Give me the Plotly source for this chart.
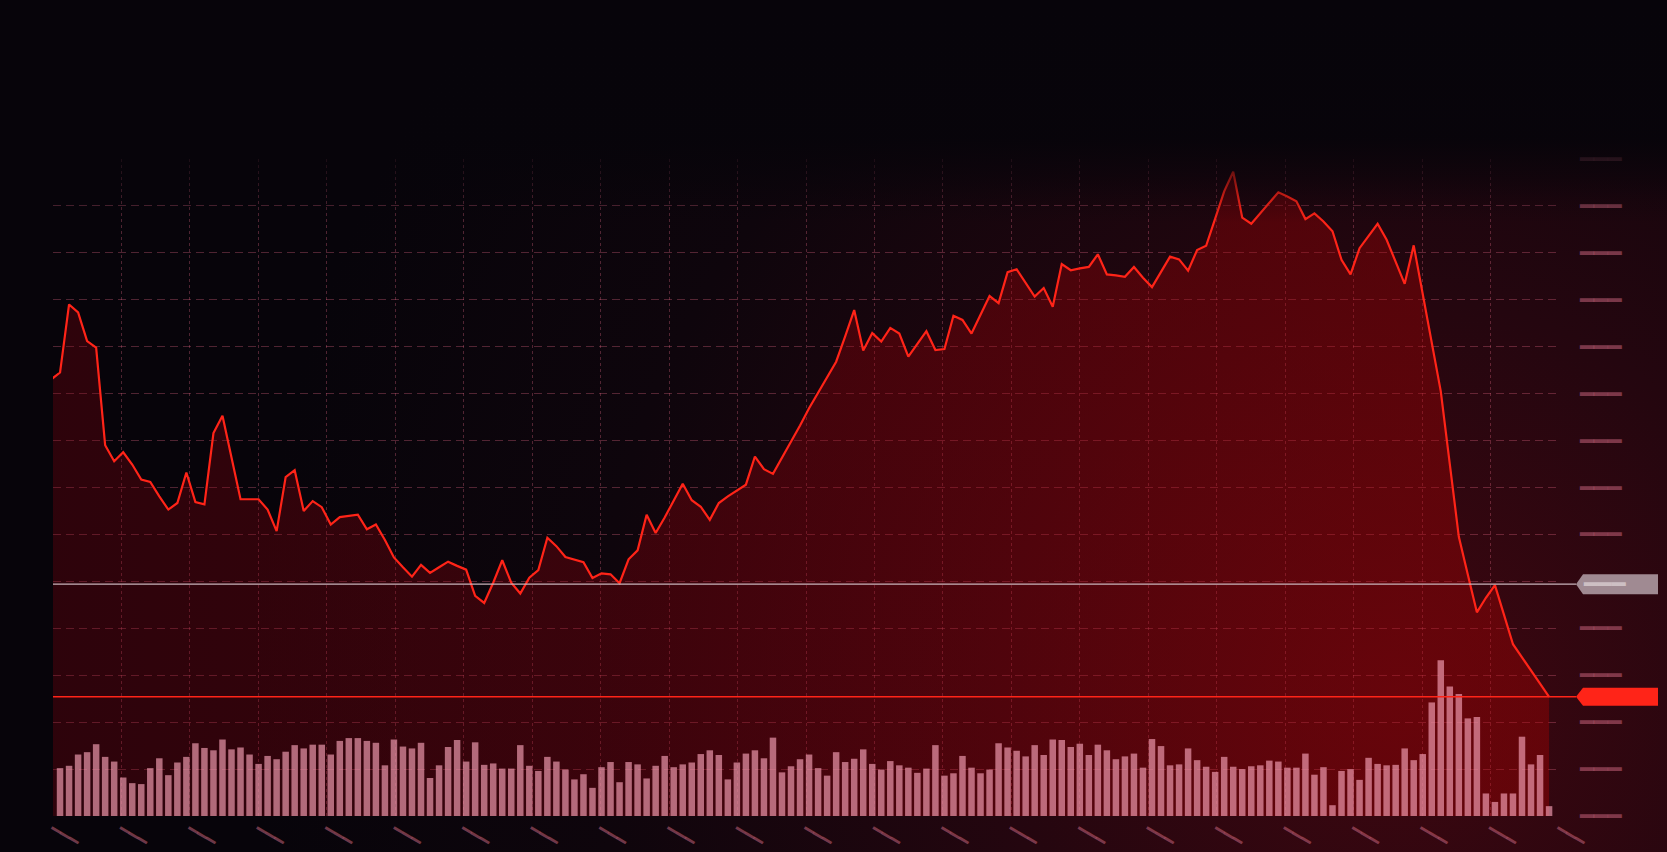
import base64
import plotly.graph_objects as go

# ---------------- data ----------------
# price series (first value is the point just before the visible window)
price = [
    153.0,
    154.5, 169.0, 167.3, 161.2, 159.8, 139.0, 135.6, 137.5, 134.9, 131.7,
    131.2, 128.1, 125.3, 126.7, 133.2, 126.9, 126.4, 141.6, 145.3, 136.4,
    127.5, 127.5, 127.5, 125.3, 120.7, 132.2, 133.7, 125.0, 127.1, 125.8,
    122.1, 123.7, 124.0, 124.2, 121.1, 122.1, 118.8, 115.1, 113.0, 111.0,
    113.5, 111.8, 113.0, 114.2, 113.3, 112.5, 106.9, 105.4, 109.7, 114.5,
    109.7, 107.4, 110.8, 112.4, 119.3, 117.5, 115.2, 114.7, 114.1, 110.7,
    111.7, 111.5, 109.6, 114.7, 116.6, 124.2, 120.3, 123.6, 127.1, 130.8,
    127.3, 125.9, 123.1, 126.7, 128.1, 129.4, 130.6, 136.6, 133.9, 132.9,
    136.3, 140.0, 143.2, 146.9, 150.2, 153.4, 156.8, 162.2, 167.8, 159.2,
    162.9, 161.1, 164.0, 162.8, 157.9, 160.6, 163.3, 159.3, 159.5, 166.6,
    165.7, 162.8, 166.8, 170.8, 169.3, 175.9, 176.5, 173.6, 170.7, 172.5,
    168.5, 177.6, 176.3, 176.7, 177.0, 179.7, 175.4, 175.2, 174.9, 177.0,
    174.7, 172.7, 175.8, 179.2, 178.6, 176.2, 180.6, 181.5, 187.3, 193.1,
    197.3, 187.5, 186.2, 188.4, 190.6, 192.9, 192.0, 191.0, 187.2, 188.4,
    186.7, 184.6, 178.5, 175.4, 181.0, 183.7, 186.2, 182.8, 178.0, 173.4,
    181.6, 171.3, 160.9, 150.5, 135.0, 119.5, 111.4, 103.4, 106.5, 109.2,
    102.9, 96.6, 93.8, 91.1, 88.2, 85.4,
]

volume = [
    1020, 1070, 1310, 1360, 1530, 1260, 1160, 820, 700, 680,
    1020, 1230, 870, 1140, 1260, 1550, 1450, 1400, 1630, 1420,
    1460, 1310, 1110, 1280, 1210, 1370, 1510, 1440, 1520, 1520,
    1310, 1600, 1660, 1660, 1600, 1560, 1080, 1630, 1480, 1440,
    1560, 810, 1080, 1470, 1620, 1160, 1570, 1090, 1120, 1010,
    1010, 1510, 1070, 960, 1260, 1160, 990, 780, 890, 600,
    1040, 1150, 720, 1150, 1100, 800, 1070, 1280, 1040, 1100,
    1140, 1320, 1400, 1300, 780, 1140, 1330, 1400, 1230, 1670,
    930, 1060, 1210, 1310, 1020, 860, 1360, 1150, 1220, 1420,
    1110, 990, 1170, 1080, 1030, 920, 1010, 1510, 860, 910,
    1280, 1030, 910, 990, 1550, 1460, 1390, 1270, 1510, 1300,
    1630, 1620, 1470, 1540, 1300, 1520, 1400, 1210, 1270, 1330,
    1030, 1640, 1490, 1080, 1100, 1440, 1190, 1050, 940, 1260,
    1050, 1000, 1060, 1080, 1180, 1160, 1030, 1030, 1330, 880,
    1040, 230, 960, 1000, 770, 1240, 1110, 1080, 1090, 1440,
    1190, 1320, 2420, 3320, 2760, 2600, 2080, 2110, 480, 300,
    480, 480, 1690, 1100, 1300, 210,
]

ref_level = 109.4           # grey reference line
last_price = price[-1]      # red current-price line

price_x = list(range(-1, len(volume)))
volume_x = list(range(len(volume)))

tick_mark = "━━━"           # label glyphs used on both axes / badge
y_tick_vals = list(range(60, 201, 10))
n_x_ticks = 23

# ---------------- layout geometry ----------------
W, H = 1667, 852
ML, MR, MT, MB = 53, 108, 159, 36
PW, PH = W - ML - MR, H - MT - MB
XMIN, XMAX = -0.78, 166.1
YMIN, YMAX = 60, 200
x_step = (XMAX - XMIN) / (n_x_ticks - 1)
x_tick_vals = [XMIN + k * x_step for k in range(n_x_ticks)]
units_per_px = (YMAX - YMIN) / PH

# the y label hidden behind the grey badge is left blank
y_tick_text = [("" if abs(v - ref_level) < 12 * units_per_px else tick_mark)
               for v in y_tick_vals]


def pxx(px):
    return (px - ML) / PW


def pxy(py):
    return (H - MB - py) / PH


def svg_uri(svg):
    return "data:image/svg+xml;base64," + base64.b64encode(svg.encode()).decode()


bg_svg = f'''<svg xmlns="http://www.w3.org/2000/svg" width="{W}" height="{H}" viewBox="0 0 {W} {H}" preserveAspectRatio="none">
<defs><radialGradient id="g" gradientUnits="userSpaceOnUse" cx="1400" cy="700" r="1150">
<stop offset="0" stop-color="#3e0710"/>
<stop offset="0.35" stop-color="#24060f"/>
<stop offset="0.7" stop-color="#0e050c"/>
<stop offset="1" stop-color="#07040a"/>
</radialGradient></defs>
<rect width="{W}" height="{H}" fill="url(#g)"/></svg>'''

top_svg = f'''<svg xmlns="http://www.w3.org/2000/svg" width="{W}" height="230" viewBox="0 0 {W} 230" preserveAspectRatio="none">
<defs><linearGradient id="f" gradientUnits="userSpaceOnUse" x1="0" y1="0" x2="0" y2="230">
<stop offset="0" stop-color="#07040a" stop-opacity="1"/>
<stop offset="0.6" stop-color="#07040a" stop-opacity="0.95"/>
<stop offset="0.76" stop-color="#07040a" stop-opacity="0.55"/>
<stop offset="0.87" stop-color="#07040a" stop-opacity="0.2"/>
<stop offset="0.97" stop-color="#07040a" stop-opacity="0"/>
<stop offset="1" stop-color="#07040a" stop-opacity="0"/>
</linearGradient></defs>
<rect width="{W}" height="230" fill="url(#f)"/></svg>'''

fig = go.Figure()

fig.add_trace(go.Scatter(
    x=price_x, y=price, mode="lines",
    line=dict(color="#ff2418", width=2.2),
    fill="tozeroy",
    fillgradient=dict(type="horizontal", colorscale=[
        [0.0, "rgba(140,0,14,0.29)"],
        [0.45, "rgba(150,0,10,0.34)"],
        [1.0, "rgba(180,0,0,0.37)"],
    ]),
    hoverinfo="skip", showlegend=False,
))

fig.add_trace(go.Bar(
    x=volume_x, y=volume, yaxis="y2", width=0.72,
    marker=dict(color="rgba(245,160,180,0.66)", line=dict(width=0)),
    hoverinfo="skip", showlegend=False,
))

grid_col = "rgba(220,100,130,0.34)"
label_col = "rgba(200,100,125,0.55)"

fig.update_layout(
    width=W, height=H,
    margin=dict(l=ML, r=MR, t=MT, b=MB, pad=0, autoexpand=False),
    paper_bgcolor="#07040a", plot_bgcolor="rgba(0,0,0,0)",
    hovermode=False, showlegend=False, bargap=0.28,
    font=dict(family="DejaVu Sans Mono"),
    xaxis=dict(
        range=[XMIN, XMAX], tickmode="array", tickvals=x_tick_vals,
        ticktext=[tick_mark] * n_x_ticks, tickangle=30, automargin=False,
        tickfont=dict(size=17, color=label_col, family="DejaVu Sans Mono"),
        showgrid=True, gridcolor=grid_col, griddash="3px,3px", gridwidth=1,
        zeroline=False, showline=False, ticks="", ticklabelstandoff=0,
    ),
    yaxis=dict(
        range=[YMIN, YMAX], side="right", tickmode="array", automargin=False,
        tickvals=y_tick_vals, ticktext=y_tick_text,
        tickfont=dict(size=23, color=label_col, family="DejaVu Sans Mono"),
        showgrid=True, gridcolor=grid_col, griddash="8px,5px", gridwidth=1,
        zeroline=False, showline=False, ticks="", ticklabelstandoff=20,
    ),
    yaxis2=dict(range=[0, 14000], overlaying="y", visible=False,
                automargin=False),
    images=[
        dict(source=svg_uri(bg_svg), xref="paper", yref="paper",
             x=pxx(0), y=pxy(0), sizex=W / PW, sizey=H / PH,
             xanchor="left", yanchor="top", sizing="stretch", layer="below"),
        dict(source=svg_uri(top_svg), xref="paper", yref="paper",
             x=pxx(0), y=pxy(0), sizex=W / PW, sizey=230 / PH,
             xanchor="left", yanchor="top", sizing="stretch", layer="above"),
    ],
)

tip_x, body_x, right_x = pxx(1576), pxx(1583), pxx(1658)


def badge_path(yc, half_px):
    h = half_px * units_per_px
    return (f"M {tip_x},{yc} L {body_x},{yc + h} L {right_x},{yc + h} "
            f"L {right_x},{yc - h} L {body_x},{yc - h} Z")


for level, line_col, badge_col, half in [
    (ref_level, "#c8b4bb", "#a08a92", 10),
    (last_price, "#ff2418", "#ff2418", 9),
]:
    fig.add_shape(type="line", xref="paper", yref="y", x0=0, x1=tip_x,
                  y0=level, y1=level, line=dict(color=line_col, width=1.4),
                  layer="above")
    fig.add_shape(type="path", xref="paper", yref="y",
                  path=badge_path(level, half), fillcolor=badge_col,
                  line=dict(width=0), layer="above")

fig.add_annotation(xref="paper", yref="y", x=pxx(1581), y=ref_level,
                   xanchor="left", yanchor="middle", showarrow=False,
                   text=tick_mark,
                   font=dict(size=23, color="#cdbfc3", family="DejaVu Sans Mono"))

fig.write_html(
    "out.html",
    config={"displayModeBar": False},
    post_script="document.body.style.margin='0';document.body.style.overflow='hidden';",
)
